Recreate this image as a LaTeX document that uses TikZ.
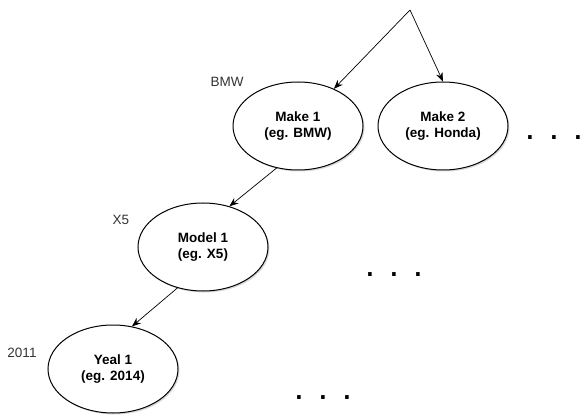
\documentclass[tikz,border=0pt]{standalone}
\usepackage{fontspec}
\setmainfont{Liberation Sans}
\usetikzlibrary{positioning, shapes.geometric, arrows.meta, shadows}

\begin{document}
\begin{tikzpicture}[x=1pt, y=1pt, node distance=145pt, on grid,
  >={Stealth[length=9pt, width=7pt]},
  item/.style={ellipse, draw, line width=1pt, fill=white, minimum width=130pt, minimum height=88pt,
    inner sep=0pt, align=center, font=\fontsize{13.5}{15.5}\selectfont\bfseries,
    drop shadow={shadow xshift=1.5pt, shadow yshift=-1.5pt, fill=black!30}},
  tag/.style={font=\fontsize{13.5}{15}\selectfont, text=black!80},
  more/.style={font=\fontsize{37}{37}\selectfont, inner sep=0pt}]
  \useasboundingbox (0,0) rectangle (584,-417);

  \coordinate (root) at (410,-10);
  \node[item] (make1) at (298,-126) {Make 1\\(eg. BMW)};
  \node[item] (make2) [right=of make1] {Make 2\\(eg. Honda)};
  \node[item] (model1) [below left=121pt and 95pt of make1] {Model 1\\(eg. X5)};
  \node[item] (year1) [below left=122pt and 90pt of model1] {Yeal 1\\(eg. 2014)};

  \node[tag] (bmw) [above left=44pt and 71pt of make1] {BMW};
  \node[tag] (x5) [above left=27pt and 82pt of model1] {X5};
  \node[tag] (y2011) [above left=16pt and 91pt of year1] {2011};

  \node[more] (moremakes) [below right=12pt and 111pt of make2] {. . .};
  \node[more] (moremodels) [below right=28pt and 191pt of model1] {. . .};
  \node[more] (moreyears) [below right=29pt and 210pt of year1] {. . .};

  \path[->, line width=0.7pt]
  (root) edge (make1)
    (root) edge (make2.north)
  (make1.243) edge (model1.57)
    (model1.238) edge (year1.66);
\end{tikzpicture}
\end{document}
